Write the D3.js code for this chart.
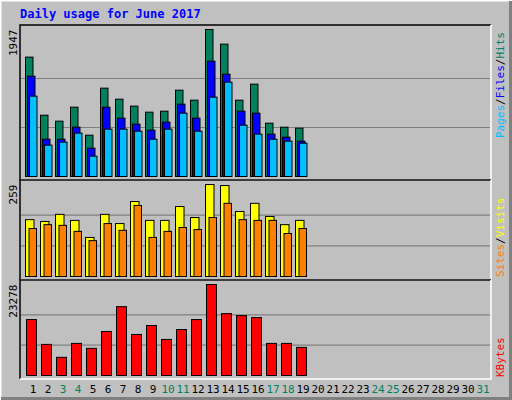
<!DOCTYPE html>
<html><head><meta charset="utf-8">
<script src="https://cdn.jsdelivr.net/npm/d3@7"></script>
<style>body{margin:0;background:#fff}svg{display:block}text{font-family:"DejaVu Sans Mono",monospace}</style>
</head><body><svg id="chart" width="512" height="400"></svg>
<script>
const days = d3.range(1, 32);
const weekends = [3, 4, 10, 11, 17, 18, 24, 25, 31];
const hits = [1581, 812, 733, 918, 547, 1170, 1024, 932, 852, 865, 1143, 1011, 1947, 1753, 1011, 1223, 706, 653, 640];
const files = [1329, 494, 494, 653, 375, 918, 773, 693, 614, 720, 958, 773, 1528, 1355, 865, 839, 561, 521, 468];
const pages = [1064, 415, 455, 574, 269, 627, 627, 600, 494, 627, 839, 600, 1051, 1249, 680, 561, 494, 468, 441];
const visits = [160, 155, 175, 158, 110, 175, 149, 211, 158, 158, 197, 166, 259, 256, 183, 206, 169, 146, 158];
const sites = [135, 146, 144, 127, 101, 149, 130, 200, 110, 127, 138, 132, 166, 206, 160, 158, 158, 121, 135];
const kbytes = [14306, 7957, 4656, 8211, 6941, 11258, 17607, 10497, 12782, 9227, 11766, 14306, 23278, 15830, 15322, 14814, 8211, 8211, 7195];

const svg = d3.select("#chart");
const W = 512, H = 400;

// outer 3D frame
svg.append("rect").attr("width", W).attr("height", H).attr("fill", "#c0c0c0");
svg.append("path").attr("d", `M0,${H} L0,0 L${W},0`).attr("stroke", "#fff").attr("stroke-width", 3).attr("fill", "none");
svg.append("path").attr("d", `M1,${H - 1.5} L${W - 1.5},${H - 1.5} L${W - 1.5},1`).attr("stroke", "#808080").attr("stroke-width", 3).attr("fill", "none");

svg.append("text").attr("x", 20).attr("y", 18).attr("fill", "#0000ff").attr("font-size", 12).attr("font-weight", "bold")
    .text("Daily usage for June 2017");

const x = d3.scaleLinear().domain([1, 31]).range([25, 475]);
const left = 20, right = 491;

function panel(top, bottom, baseline, maxY, maxVal, label) {
    svg.append("path").attr("d", `M${left},${bottom} L${left},${top} L${right},${top}`).attr("stroke", "#000").attr("stroke-width", 1.5).attr("fill", "none");
    svg.append("path").attr("d", `M${left},${bottom} L${right},${bottom} L${right},${top}`).attr("stroke", "#fff").attr("stroke-width", 1.5).attr("fill", "none");
    const y = d3.scaleLinear().domain([0, maxVal]).range([baseline, maxY]);
    [1 / 3, 2 / 3].forEach(f => {
        svg.append("line").attr("x1", left + 1).attr("x2", right - 1)
            .attr("y1", y(maxVal * f)).attr("y2", y(maxVal * f)).attr("stroke", "#808080").attr("stroke-width", 1.2);
    });
    svg.append("text").attr("transform", `translate(17,${maxY}) rotate(-90)`).attr("text-anchor", "end")
        .attr("font-size", 11).attr("fill", "#000").text(label);
    return y;
}

function bars(data, y, dx, w, color) {
    svg.append("g").selectAll("rect").data(data).join("rect")
        .attr("x", (d, i) => x(i + 1) + dx).attr("width", w)
        .attr("y", d => y(d)).attr("height", d => y(0) - y(d))
        .attr("fill", color).attr("stroke", "#000").attr("stroke-width", 1);
}

const y1 = panel(25, 180, 176.5, 29.5, d3.max(hits), "1947");
bars(hits, y1, 0.5, 7.5, "#00805c");
bars(files, y1, 2.5, 7.5, "#0000ff");
bars(pages, y1, 4.5, 7.5, "#00bfff");

const y2 = panel(180, 280, 276.5, 184.5, d3.max(visits), "259");
bars(visits, y2, 0.5, 8.5, "#ffff00");
bars(sites, y2, 4, 7.5, "#ff8000");

const y3 = panel(280, 379, 375.5, 284.5, d3.max(kbytes), "23278");
bars(kbytes, y3, 1.5, 10, "#ff0000");

// x labels
svg.append("g").selectAll("text").data(days).join("text")
    .attr("x", d => x(d) + 8).attr("y", 393).attr("text-anchor", "middle").attr("font-size", 11)
    .attr("fill", d => weekends.includes(d) ? "#00805c" : "#000").text(d => d);

// right side labels
function sideLabel(yBottom, parts) {
    const t = svg.append("text").attr("transform", `translate(504,${yBottom}) rotate(-90)`).attr("font-size", 11);
    parts.forEach(([s, c]) => t.append("tspan").attr("fill", c).text(s));
}
sideLabel(138, [["Pages", "#00bfff"], ["/", "#000"], ["Files", "#0000ff"], ["/", "#000"], ["Hits", "#00805c"]]);
sideLabel(277, [["Sites", "#ff8000"], ["/", "#000"], ["Visits", "#ffff00"]]);
sideLabel(377, [["KBytes", "#ff0000"]]);
</script></body></html>
